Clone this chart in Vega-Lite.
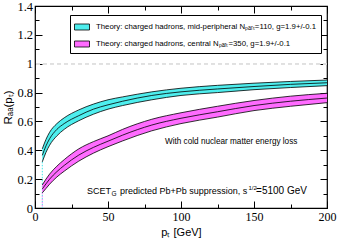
{
  "$schema": "https://vega.github.io/schema/vega-lite/v6.json",
  "width": 292,
  "height": 202,
  "autosize": "none",
  "padding": {"left": 35, "top": 6, "right": 11, "bottom": 32},
  "background": "white",
  "config": {"view": {"stroke": "black", "strokeWidth": 1.2}, "font": "Liberation Sans"},
  "datasets": {
    "bands": [
      {"series": "midperipheral", "pT": 5, "lo": 0.32, "mid": 0.365, "hi": 0.41},
      {"series": "midperipheral", "pT": 7.5, "lo": 0.385, "mid": 0.43, "hi": 0.475},
      {"series": "midperipheral", "pT": 10, "lo": 0.435, "mid": 0.48, "hi": 0.525},
      {"series": "midperipheral", "pT": 15, "lo": 0.5, "mid": 0.545, "hi": 0.585},
      {"series": "midperipheral", "pT": 20, "lo": 0.545, "mid": 0.585, "hi": 0.625},
      {"series": "midperipheral", "pT": 30, "lo": 0.605, "mid": 0.64, "hi": 0.68},
      {"series": "midperipheral", "pT": 40, "lo": 0.65, "mid": 0.685, "hi": 0.72},
      {"series": "midperipheral", "pT": 50, "lo": 0.685, "mid": 0.715, "hi": 0.75},
      {"series": "midperipheral", "pT": 60, "lo": 0.71, "mid": 0.74, "hi": 0.77},
      {"series": "midperipheral", "pT": 80, "lo": 0.75, "mid": 0.78, "hi": 0.805},
      {"series": "midperipheral", "pT": 100, "lo": 0.78, "mid": 0.805, "hi": 0.83},
      {"series": "midperipheral", "pT": 125, "lo": 0.8, "mid": 0.825, "hi": 0.85},
      {"series": "midperipheral", "pT": 150, "lo": 0.82, "mid": 0.842, "hi": 0.865},
      {"series": "midperipheral", "pT": 175, "lo": 0.835, "mid": 0.857, "hi": 0.877},
      {"series": "midperipheral", "pT": 200, "lo": 0.848, "mid": 0.868, "hi": 0.887},
      {"series": "central", "pT": 5, "lo": 0.105, "mid": 0.132, "hi": 0.16},
      {"series": "central", "pT": 7.5, "lo": 0.135, "mid": 0.167, "hi": 0.2},
      {"series": "central", "pT": 10, "lo": 0.165, "mid": 0.2, "hi": 0.235},
      {"series": "central", "pT": 15, "lo": 0.215, "mid": 0.252, "hi": 0.29},
      {"series": "central", "pT": 20, "lo": 0.255, "mid": 0.295, "hi": 0.335},
      {"series": "central", "pT": 30, "lo": 0.325, "mid": 0.367, "hi": 0.41},
      {"series": "central", "pT": 40, "lo": 0.38, "mid": 0.42, "hi": 0.46},
      {"series": "central", "pT": 50, "lo": 0.425, "mid": 0.463, "hi": 0.5},
      {"series": "central", "pT": 60, "lo": 0.465, "mid": 0.505, "hi": 0.545},
      {"series": "central", "pT": 80, "lo": 0.535, "mid": 0.575, "hi": 0.615},
      {"series": "central", "pT": 100, "lo": 0.585, "mid": 0.622, "hi": 0.66},
      {"series": "central", "pT": 125, "lo": 0.63, "mid": 0.667, "hi": 0.705},
      {"series": "central", "pT": 150, "lo": 0.675, "mid": 0.71, "hi": 0.745},
      {"series": "central", "pT": 175, "lo": 0.705, "mid": 0.74, "hi": 0.775},
      {"series": "central", "pT": 200, "lo": 0.73, "mid": 0.762, "hi": 0.795}
    ]
  },
  "data": {"name": "bands"},
  "resolve": {"axis": {"x": "independent", "y": "independent"}},
  "layer": [
    {
      "mark": {"type": "rule", "stroke": "#e0e0e0", "strokeDash": [4, 3], "strokeWidth": 1},
      "encoding": {
        "y": {"datum": 1, "type": "quantitative", "axis": null}
      }
    },
    {
      "transform": [{"filter": "datum.pT == 5 && datum.series == 'midperipheral'"}],
      "mark": {"type": "rule", "strokeDash": [1.5, 1.5], "strokeWidth": 1, "stroke": "#40e8e8"},
      "encoding": {
        "x": {"field": "pT", "type": "quantitative", "axis": null},
        "y": {"field": "lo", "type": "quantitative", "axis": null},
        "y2": {"datum": 0}
      }
    },
    {
      "transform": [{"filter": "datum.pT == 5 && datum.series == 'central'"}],
      "mark": {"type": "rule", "strokeDash": [1.5, 1.5], "strokeWidth": 1, "stroke": "#ff80ff"},
      "encoding": {
        "x": {"field": "pT", "type": "quantitative", "axis": null},
        "y": {"field": "lo", "type": "quantitative", "axis": null},
        "y2": {"datum": 0}
      }
    },
    {
      "mark": {"type": "area", "interpolate": "monotone"},
      "encoding": {
        "x": {
          "field": "pT", "type": "quantitative",
          "scale": {"domain": [0, 200], "nice": false},
          "axis": {
            "orient": "bottom",
            "values": [0, 25, 50, 75, 100, 125, 150, 175, 200],
            "labelExpr": "datum.value % 50 === 0 ? datum.label : ''",
            "tickSize": {"condition": {"test": "datum.value % 50 === 0", "value": -7}, "value": -4},
            "tickColor": "black",
            "labelPadding": 10,
            "labelFlush": false,
            "labelOverlap": false,
            "domain": false,
            "grid": false,
            "labelFont": "Liberation Serif",
            "labelFontSize": 12,
            "labelColor": "black",
            "title": "pₜ [GeV]",
            "titleFont": "Liberation Sans",
            "titleFontSize": 11,
            "titleFontWeight": "normal",
            "titleColor": "black",
            "titlePadding": 1
          }
        },
        "y": {
          "field": "lo", "type": "quantitative",
          "scale": {"domain": [0, 1.4], "nice": false},
          "axis": {
            "orient": "left",
            "values": [0, 0.1, 0.2, 0.3, 0.4, 0.5, 0.6, 0.7, 0.8, 0.9, 1, 1.1, 1.2, 1.3, 1.4],
            "labelExpr": "abs(datum.value * 5 - round(datum.value * 5)) < 0.000001 ? format(datum.value, '~g') : ''",
            "tickSize": {"condition": {"test": "abs(datum.value * 5 - round(datum.value * 5)) < 0.000001", "value": -7}, "value": -4},
            "tickColor": "black",
            "labelPadding": 9.5,
            "labelOverlap": false,
            "labelFlush": false,
            "domain": false,
            "grid": false,
            "labelFont": "Liberation Serif",
            "labelFontSize": 12.5,
            "labelColor": "black",
            "title": "Rₐₐ(pₜ)",
            "titleFont": "Liberation Sans",
            "titleFontSize": 11.5,
            "titleFontWeight": "normal",
            "titleColor": "black",
            "titlePadding": 3
          }
        },
        "y2": {"field": "hi"},
        "fill": {
          "field": "series", "type": "nominal",
          "scale": {"domain": ["midperipheral", "central"], "range": ["#4eeeee", "#ff6bff"]},
          "legend": {
            "orient": "none",
            "legendX": 35,
            "legendY": 9,
            "title": null,
            "strokeColor": "black",
            "fillColor": "white",
            "padding": 4,
            "symbolType": "M-1,-0.4H1V0.4H-1Z",
            "symbolSize": 225,
            "symbolStrokeColor": "black",
            "symbolStrokeWidth": 0.8,
            "symbolOpacity": 1,
            "labelFont": "Liberation Sans",
            "labelFontSize": 7.8,
            "labelColor": "black",
            "labelLimit": 400,
            "labelOffset": 6,
            "rowPadding": 4,
            "labelExpr": "datum.label == 'midperipheral' ? 'Theory: charged hadrons, mid-peripheral Nₚₐᵣₜ=110, g=1.9+/-0.1' : 'Theory: charged hadrons, central Nₚₐᵣₜ=350, g=1.9+/-0.1'"
          }
        }
      }
    },
    {
      "transform": [{"fold": ["lo", "mid", "hi"], "as": ["k", "v"]}],
      "mark": {"type": "line", "interpolate": "monotone", "stroke": "black", "strokeWidth": 0.8},
      "encoding": {
        "x": {"field": "pT", "type": "quantitative", "axis": null},
        "y": {"field": "v", "type": "quantitative", "axis": null},
        "detail": [{"field": "series", "type": "nominal"}, {"field": "k", "type": "nominal"}]
      }
    },
    {
      "mark": {"type": "point", "opacity": 0},
      "encoding": {
        "x": {
          "field": "pT", "type": "quantitative",
          "axis": {
            "orient": "top", "values": [0, 25, 50, 75, 100, 125, 150, 175, 200],
            "labels": false, "domain": false, "grid": false, "title": null, "tickColor": "black",
            "tickSize": {"condition": {"test": "datum.value % 50 === 0", "value": -7}, "value": -4}
          }
        },
        "y": {
          "field": "mid", "type": "quantitative",
          "axis": {
            "orient": "right", "values": [0, 0.1, 0.2, 0.3, 0.4, 0.5, 0.6, 0.7, 0.8, 0.9, 1, 1.1, 1.2, 1.3, 1.4],
            "labels": false, "domain": false, "grid": false, "title": null, "tickColor": "black",
            "tickSize": {"condition": {"test": "abs(datum.value * 5 - round(datum.value * 5)) < 0.000001", "value": -7}, "value": -4}
          }
        }
      }
    },
    {
      "data": {"values": [
        {"t": "SCET", "pT": 35.6, "R": 0.1},
        {"t": "predicted Pb+Pb suppression, s", "pT": 58.2, "R": 0.1}
      ]},
      "mark": {"type": "text", "align": "left", "baseline": "alphabetic", "fontSize": 9, "font": "Liberation Sans", "color": "black"},
      "encoding": {
        "x": {"field": "pT", "type": "quantitative", "axis": null},
        "y": {"field": "R", "type": "quantitative", "axis": null},
        "text": {"field": "t", "type": "nominal"}
      }
    },
    {
      "data": {"values": [{"t": "=5100 GeV", "pT": 151.4, "R": 0.1}]},
      "mark": {"type": "text", "align": "left", "baseline": "alphabetic", "fontSize": 10, "font": "Liberation Sans", "color": "black"},
      "encoding": {
        "x": {"field": "pT", "type": "quantitative", "axis": null},
        "y": {"field": "R", "type": "quantitative", "axis": null},
        "text": {"field": "t", "type": "nominal"}
      }
    },
    {
      "data": {"values": [{"t": "G", "pT": 52.4, "R": 0.1}]},
      "mark": {"type": "text", "align": "left", "baseline": "alphabetic", "fontSize": 6.5, "dy": 2.5, "font": "Liberation Sans", "color": "black"},
      "encoding": {
        "x": {"field": "pT", "type": "quantitative", "axis": null},
        "y": {"field": "R", "type": "quantitative", "axis": null},
        "text": {"field": "t", "type": "nominal"}
      }
    },
    {
      "data": {"values": [{"t": "1/2", "pT": 146.2, "R": 0.1}]},
      "mark": {"type": "text", "align": "left", "baseline": "alphabetic", "fontSize": 6, "dy": -4, "font": "Liberation Sans", "color": "black"},
      "encoding": {
        "x": {"field": "pT", "type": "quantitative", "axis": null},
        "y": {"field": "R", "type": "quantitative", "axis": null},
        "text": {"field": "t", "type": "nominal"}
      }
    },
    {
      "data": {"values": [{"t": "With cold nuclear matter energy loss", "pT": 89, "R": 0.455}]},
      "mark": {"type": "text", "align": "left", "baseline": "middle", "fontSize": 8.2, "font": "Liberation Sans", "color": "black"},
      "encoding": {
        "x": {"field": "pT", "type": "quantitative", "axis": null},
        "y": {"field": "R", "type": "quantitative", "axis": null},
        "text": {"field": "t", "type": "nominal"}
      }
    }
  ]
}
